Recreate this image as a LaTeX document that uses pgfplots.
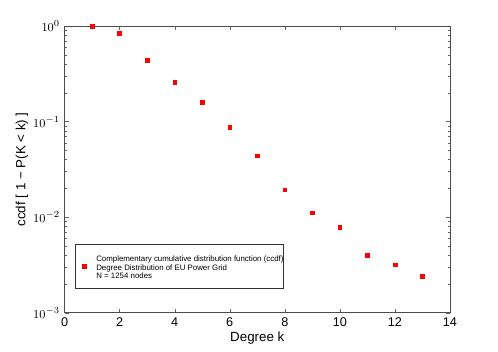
\documentclass[border=0pt]{standalone}
\usepackage{pgfplots}
\pgfplotsset{compat=1.18}
\usepackage{fontspec}
\setmainfont{Liberation Sans}
\begin{document}
\begin{tikzpicture}
\begin{axis}[
    scale only axis,
    width=289pt,
    height=215pt,
    ymode=log,
    xmin=0, xmax=14,
    ymin=1e-3, ymax=1,
    xtick={0,2,...,14},
    ytick={1e-3,1e-2,1e-1,1},
    tick align=inside,
    axis line style={black!70},
    tick style={black!60},
    major tick length=3pt,
    minor tick length=1.6pt,
    tick label style={font=\fontsize{9.5}{11}\selectfont},
    /pgf/number format/assume math mode=true,
    xlabel={Degree k},
    ylabel={ccdf [ 1 − P(K < k) ]},
    label style={font=\fontsize{10}{12}\selectfont},
    xlabel style={yshift=3pt},
    ylabel style={yshift=-3pt},
    legend style={at={(0.027,0.084)}, anchor=south west,
        font=\fontsize{5.9}{6.6}\selectfont, draw=black!80,
        inner xsep=5.5pt, inner ysep=5.8pt},
    legend image post style={yshift=0pt},
    legend cell align=left,
]
\addplot[only marks, mark=square*, mark size=1.4pt, color=red] coordinates {
(1,1.0) (2,0.845) (3,0.44) (4,0.26) (5,0.16) (6,0.088) (7,0.044)
(8,0.0193) (9,0.0111) (10,0.0079) (11,0.0040) (12,0.00318) (13,0.0024)
};
\addlegendentry{\begin{tabular}{@{\hspace{5.5pt}}l@{\hspace{-7.5pt}}}Complementary cumulative distribution function (ccdf)\\Degree Distribution of EU Power Grid\\N = 1254 nodes\rule[-10.5pt]{0pt}{0pt}\end{tabular}}
\end{axis}
\pgfresetboundingbox
\path[use as bounding box] ([shift={(-48.4pt,-29.3pt)}]current axis.south west) rectangle ([shift={(36pt,19.5pt)}]current axis.north east);
\end{tikzpicture}
\end{document}
